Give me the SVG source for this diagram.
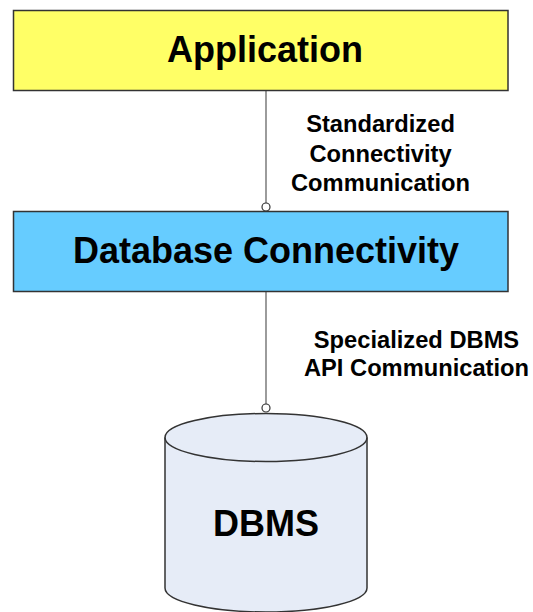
<svg xmlns="http://www.w3.org/2000/svg" width="533" height="612" viewBox="0 0 533 612">
<style>
.box{stroke:#333;stroke-width:1.5}
.t{font-family:"Liberation Sans",Arial,sans-serif;font-weight:bold;fill:#000;text-anchor:middle}
.big{font-size:36px}
.lbl{font-size:23.7px}
.conn{stroke:#666;stroke-width:1.3;fill:none}
.dot{fill:#fff;stroke:#333;stroke-width:1.2}
</style>
<rect width="533" height="612" fill="#fff"/>
<g id="connectors">
<line class="conn" x1="266" y1="90" x2="266" y2="203"/>
<circle class="dot" cx="266" cy="207" r="4"/>
<line class="conn" x1="266" y1="292" x2="266" y2="404"/>
<circle class="dot" cx="266" cy="408" r="4"/>
<text class="t lbl" x="380.5" y="132">Standardized</text>
<text class="t lbl" x="380.5" y="161.5">Connectivity</text>
<text class="t lbl" x="380.5" y="191">Communication</text>
<text class="t lbl" x="416.5" y="347.5">Specialized DBMS</text>
<text class="t lbl" x="416.5" y="376">API Communication</text>
</g>
<g id="application">
<rect class="box" x="13.5" y="10.5" width="494.5" height="80" fill="#FFFF66"/>
<text class="t big" x="265" y="62">Application</text>
</g>
<g id="database-connectivity">
<rect class="box" x="13.5" y="211.5" width="494.5" height="80" fill="#66CCFF"/>
<text class="t big" x="266" y="263">Database Connectivity</text>
</g>
<g id="dbms">
<path class="box" d="M165,437.5 L165,588 A101,24 0 0 0 367,588 L367,437.5 A101,24 0 0 0 165,437.5 Z" fill="#E6ECF7"/>
<path class="box" d="M165,437.5 A101,24 0 0 0 367,437.5" fill="none"/>
<text class="t big" x="266" y="536">DBMS</text>
</g>
</svg>
